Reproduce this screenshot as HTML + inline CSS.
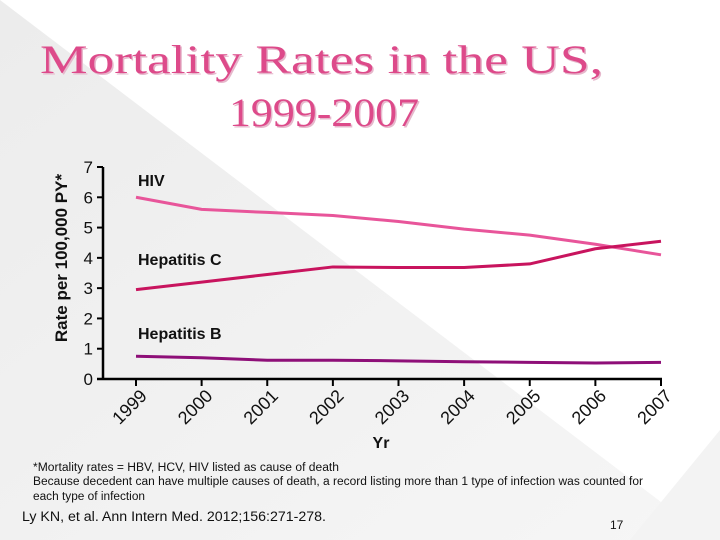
<!DOCTYPE html>
<html><head><meta charset="utf-8"><style>
html,body{margin:0;padding:0;background:#fff}
svg{display:block}
</style></head><body>
<svg width="720" height="540" viewBox="0 0 720 540" xmlns="http://www.w3.org/2000/svg">
<defs>
<linearGradient id="g1" x1="0" y1="0" x2="1" y2="1"><stop offset="0" stop-color="#ececec"/><stop offset="1" stop-color="#f6f6f6"/></linearGradient>
</defs>
<polygon points="0,0 711,540 0,540" fill="url(#g1)"/>
<polygon points="720,430 720,540 630,540" fill="#f3f3f3"/>
<g font-family="'Liberation Serif', serif" font-size="40" fill="#dd4a8a">
<text x="40" y="73" fill="#e6b8cc" transform="translate(1.5,1.5)" textLength="563" lengthAdjust="spacingAndGlyphs">Mortality Rates in the US,</text>
<text x="40" y="73" textLength="563" lengthAdjust="spacingAndGlyphs">Mortality Rates in the US,</text>
<text x="229" y="126" fill="#e6b8cc" transform="translate(1.5,1.5)" textLength="190" lengthAdjust="spacingAndGlyphs">1999-2007</text>
<text x="229" y="126" textLength="190" lengthAdjust="spacingAndGlyphs">1999-2007</text>
</g>
<g id="chart" font-family="'Liberation Sans', sans-serif"></g>
<g font-family="'Liberation Sans', sans-serif" fill="#111">
<text x="33" y="471" font-size="11.5" textLength="306" lengthAdjust="spacingAndGlyphs">*Mortality rates = HBV, HCV, HIV listed as cause of death</text>
<text x="33" y="485" font-size="11.5" textLength="610" lengthAdjust="spacingAndGlyphs">Because decedent can have multiple causes of death, a record listing more than 1 type of infection was counted for</text>
<text x="33" y="500" font-size="11.5" textLength="112" lengthAdjust="spacingAndGlyphs">each type of infection</text>
<text x="22" y="521" font-size="13.5" textLength="304" lengthAdjust="spacingAndGlyphs">Ly KN, et al. Ann Intern Med. 2012;156:271-278.</text>
<text x="610" y="529" font-size="12">17</text>
</g>
</svg>
<script>
const years = ['1999','2000','2001','2002','2003','2004','2005','2006','2007'];
const hivValues = [6.0, 5.6, 5.5, 5.4, 5.2, 4.95, 4.75, 4.45, 4.1];
const hcvValues = [2.95, 3.2, 3.45, 3.7, 3.68, 3.68, 3.8, 4.3, 4.55];
const hbvValues = [0.75, 0.7, 0.62, 0.62, 0.6, 0.57, 0.55, 0.53, 0.55];
const yTicks = [0,1,2,3,4,5,6,7];

const NS = 'http://www.w3.org/2000/svg';
const g = document.getElementById('chart');
const x0 = 136, x1 = 661, yBase = 379, yTop = 167;
const xs = i => x0 + (x1 - x0) * i / (years.length - 1);
const ys = v => yBase - (yBase - yTop) * v / 7;
function mk(tag, attrs){const e=document.createElementNS(NS,tag);for(const k in attrs)e.setAttribute(k,attrs[k]);g.appendChild(e);return e;}

let ax = mk('line',{x1:103,y1:yTop,x2:103,y2:yBase,stroke:'#000','stroke-width':2.5});


let bx = mk('line',{x1:97,y1:yBase,x2:662,y2:yBase,stroke:'#000','stroke-width':2.5});



yTicks.forEach(v=>{
  const t = mk('line',{x1:97,y1:ys(v),x2:103,y2:ys(v),stroke:'#000','stroke-width':2});
  
  
  const l = mk('text',{x:93,y:ys(v)+6,'font-size':17,'text-anchor':'end',fill:'#111'});
  l.textContent = v;
  
  
});
years.forEach((yr,i)=>{
  const x = xs(i);
  const t = mk('line',{x1:x,y1:yBase,x2:x,y2:yBase+7,stroke:'#000','stroke-width':2});
  
  
  const l = mk('text',{x:x+12,y:yBase+18,'font-size':18,'text-anchor':'end',fill:'#111',transform:`rotate(-45 ${x+12} ${yBase+18})`});
  l.textContent = yr;
  
  
});
const xt = mk('text',{x:381,y:448,'font-size':16,'font-weight':'bold','text-anchor':'middle',fill:'#111'});
xt.textContent='Yr';


const yt = mk('text',{x:0,y:0,'font-size':17,'font-weight':'bold','text-anchor':'middle',fill:'#111',transform:'translate(67,258) rotate(-90)'});
yt.textContent='Rate per 100,000 PY*';



function series(vals,color,name){
  const p = mk('polyline',{points:vals.map((v,i)=>xs(i)+','+ys(v)).join(' '),fill:'none',stroke:color,'stroke-width':3,'stroke-linejoin':'round'});
  
  
}
series(hivValues,'#e8559a','hiv-line');
series(hcvValues,'#c8145e','hepatitis-c-line');
series(hbvValues,'#8e0f78','hepatitis-b-line');

[['HIV',186,'hiv-label'],['Hepatitis C',265,'hepatitis-c-label'],['Hepatitis B',339,'hepatitis-b-label']].forEach(([t,y,n])=>{
  const l = mk('text',{x:138,y:y,'font-size':16,'font-weight':'bold',fill:'#111'});
  l.textContent=t;
  
  
});
</script>
</body></html>
